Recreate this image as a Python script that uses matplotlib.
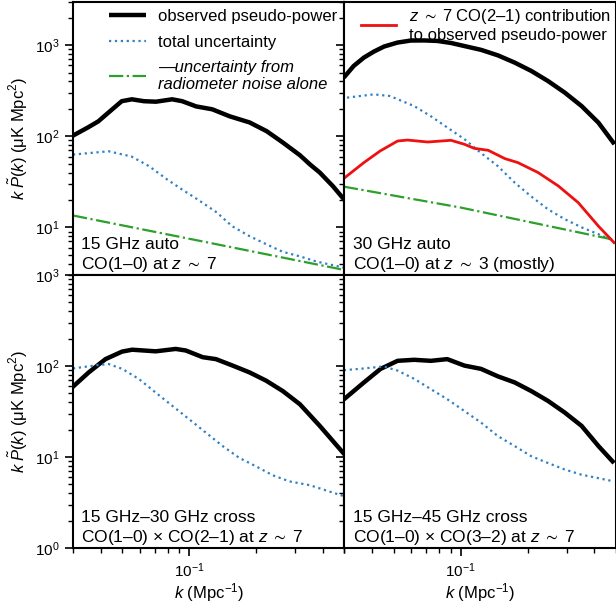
import matplotlib
matplotlib.use("Agg")
import matplotlib.pyplot as plt
import matplotlib.ticker as mticker
import numpy as np

plt.rcParams["font.family"] = ["Liberation Sans", "DejaVu Sans"]
plt.rcParams["mathtext.fontset"] = "custom"
plt.rcParams["mathtext.rm"] = "Liberation Sans"
plt.rcParams["mathtext.it"] = "Liberation Sans:italic"
plt.rcParams["mathtext.fallback"] = "stixsans"
plt.rcParams["axes.linewidth"] = 1.5

# 15 GHz auto
k_15_obs = [0.0296, 0.035, 0.039, 0.0434, 0.0497, 0.0552, 0.0626, 0.0709, 0.0838, 0.093, 0.1075,
            0.127, 0.152, 0.187, 0.223, 0.263, 0.315, 0.35, 0.387, 0.443, 0.50]
p_15_obs = [100, 125, 146, 183, 243, 255, 243, 240, 255, 243, 213,
            198, 166, 142, 114, 86, 62, 49, 40, 28.4, 20]
k_15_unc = [0.030, 0.0434, 0.055, 0.066, 0.079, 0.093, 0.11, 0.133, 0.156, 0.187,
            0.223, 0.263, 0.315, 0.376, 0.50]
p_15_unc = [63, 68.5, 60, 47, 34, 26, 20, 14.6, 10.3, 8.0,
            6.5, 5.4, 4.8, 4.2, 3.6]
k_15_rad = [0.030, 0.10, 0.50]
p_15_rad = [13.5, 7.5, 3.4]

# 30 GHz auto
k_30_obs = [0.0298, 0.033, 0.0367, 0.0407, 0.0452, 0.0519, 0.0596, 0.0685, 0.0787, 0.0904,
            0.104, 0.1236, 0.147, 0.175, 0.208, 0.247, 0.294, 0.35, 0.417, 0.492]
p_30_obs = [442, 593, 733, 853, 968, 1070, 1127, 1130, 1115, 1060,
            980, 890, 775, 645, 522, 405, 302, 215, 141, 82]
k_30_unc = [0.0308, 0.0407, 0.048, 0.0617, 0.0732, 0.087, 0.104, 0.123, 0.147, 0.175,
            0.207, 0.247, 0.294, 0.35, 0.417, 0.49]
p_30_unc = [266, 289, 277, 215, 167, 125, 93, 66, 47, 31,
            22, 15.8, 12.3, 10, 8.4, 7.1]
k_30_rad = [0.0298, 0.10, 0.49]
p_30_rad = [28, 16.5, 7.3]
k_30_co21 = [0.0298, 0.0367, 0.0434, 0.052, 0.0576, 0.071, 0.0904, 0.104, 0.115, 0.133,
             0.158, 0.181, 0.223, 0.275, 0.338, 0.417, 0.49]
p_30_co21 = [34.5, 51.5, 69, 88.8, 91, 86.6, 90.4, 81.7, 73.8, 70.2,
             56.9, 51.4, 40, 28.5, 18.7, 10.3, 6.8]

# 15x30 cross
k_x30_obs = [0.0297, 0.0353, 0.042, 0.0499, 0.0554, 0.0707, 0.087, 0.0966, 0.115, 0.132,
             0.157, 0.187, 0.222, 0.264, 0.315, 0.387, 0.50]
p_x30_obs = [58, 85, 119, 144, 151, 145, 154, 148, 125, 119,
             101, 85, 69, 53, 38, 22, 10.7]
k_x30_unc = [0.0300, 0.039, 0.0434, 0.050, 0.0594, 0.0707, 0.084, 0.10, 0.119, 0.1415,
             0.168, 0.20, 0.238, 0.283, 0.35, 0.50]
p_x30_unc = [94, 102.6, 105, 93, 72, 51, 36.5, 26, 18.5, 13.2,
             9.8, 7.9, 6.3, 5.4, 4.9, 3.7]

# 15x45 cross
k_x45_obs = [0.0298, 0.0367, 0.0436, 0.052, 0.0617, 0.0734, 0.087, 0.104, 0.1235, 0.147,
             0.175, 0.208, 0.247, 0.294, 0.35, 0.417, 0.49]
p_x45_obs = [43, 66, 93, 114, 117, 114, 119, 101, 93, 77,
             66, 53, 41.4, 30.8, 22, 13.2, 8.6]
k_x45_unc = [0.0298, 0.0367, 0.045, 0.052, 0.062, 0.0734, 0.087, 0.104, 0.1235, 0.147,
             0.175, 0.208, 0.247, 0.294, 0.35, 0.49]
p_x45_unc = [90, 94, 99, 89, 72, 55.7, 43.2, 32, 23.9, 17,
             13.2, 10.2, 8.6, 7.3, 6.4, 5.4]

c_blue = "#2f80c4"
c_green = "#2ca02c"
c_red = "#ee1111"

fig, axs = plt.subplots(2, 2, figsize=(6.16, 6.09), dpi=100)
fig.subplots_adjust(left=0.1185, right=1.0, bottom=0.1, top=0.997, wspace=0, hspace=0)

def obs(ax, k, p, **kw):
    ax.plot(k, p, color="k", lw=3.2, solid_capstyle="butt", solid_joinstyle="round", **kw)

def unc(ax, k, p, **kw):
    ax.plot(k, p, color=c_blue, lw=1.6, ls=":", **kw)

def rad(ax, k, p, **kw):
    ax.plot(k, p, color=c_green, lw=1.6, ls="-.", **kw)

zsim = "$z\\;\\sim\\;7$"

ax = axs[0, 0]
obs(ax, k_15_obs, p_15_obs, label="observed pseudo-power")
unc(ax, k_15_unc, p_15_unc, label="total uncertainty")
rad(ax, k_15_rad, p_15_rad, label="\u2014uncertainty from\nradiometer noise alone")
leg = ax.legend(loc="upper right", frameon=False, fontsize=12, handlelength=2.2,
                handletextpad=0.7, borderaxespad=0.05, labelspacing=0.62,
                bbox_to_anchor=(1.0, 1.0))
leg.get_texts()[2].set_fontstyle("italic")
ax.text(0.03, 0.003, "15 GHz auto\nCO(1\u20130) at " + zsim, transform=ax.transAxes,
        fontsize=12.5, va="bottom", ha="left", linespacing=1.2)

ax = axs[0, 1]
obs(ax, k_30_obs, p_30_obs)
unc(ax, k_30_unc, p_30_unc)
rad(ax, k_30_rad, p_30_rad)
ax.plot(k_30_co21, p_30_co21, color=c_red, lw=2.0,
        label=zsim + " CO(2\u20131) contribution\nto observed pseudo-power")
ax.legend(loc="upper right", frameon=False, fontsize=12, handlelength=2.1,
          handletextpad=0.8, borderaxespad=0.0, borderpad=0.3)
ax.text(0.03, 0.003, "30 GHz auto\nCO(1\u20130) at $z\\;\\sim\\;3$ (mostly)", transform=ax.transAxes,
        fontsize=12.5, va="bottom", ha="left", linespacing=1.2)

ax = axs[1, 0]
obs(ax, k_x30_obs, p_x30_obs)
unc(ax, k_x30_unc, p_x30_unc)
ax.text(0.03, 0.003, "15 GHz\u201330 GHz cross\nCO(1\u20130) $\\times$ CO(2\u20131) at " + zsim,
        transform=ax.transAxes, fontsize=12.5, va="bottom", ha="left", linespacing=1.2)

ax = axs[1, 1]
obs(ax, k_x45_obs, p_x45_obs)
unc(ax, k_x45_unc, p_x45_unc)
ax.text(0.03, 0.003, "15 GHz\u201345 GHz cross\nCO(1\u20130) $\\times$ CO(3\u20132) at " + zsim,
        transform=ax.transAxes, fontsize=12.5, va="bottom", ha="left", linespacing=1.2)

for i in range(2):
    for j in range(2):
        ax = axs[i, j]
        ax.set_xscale("log")
        ax.set_yscale("log")
        ax.set_xlim(0.03, 0.5)
        ax.set_ylim((3, 3000) if i == 0 else (1, 1000))
        ax.xaxis.set_major_locator(mticker.LogLocator(base=10, numticks=10))
        ax.xaxis.set_minor_locator(mticker.LogLocator(base=10, subs=np.arange(2, 10), numticks=10))
        ax.yaxis.set_minor_locator(mticker.LogLocator(base=10, subs=np.arange(2, 10), numticks=10))
        ax.yaxis.set_minor_formatter(mticker.NullFormatter())
        ax.xaxis.set_minor_formatter(mticker.NullFormatter())
        ax.tick_params(which="major", direction="out", length=6, width=1.2, labelsize=11)
        ax.tick_params(which="minor", direction="out", length=3.5, width=1.0)
        if j == 1:
            ax.tick_params(labelleft=False)
        else:
            ax.set_ylabel("$k\\;\\tilde{P}(k)$ (\u03bcK Mpc$^2$)", fontsize=12)
        if i == 0:
            ax.tick_params(labelbottom=False)
        else:
            ax.set_xlabel("$k$ (Mpc$^{-1}$)", fontsize=12, labelpad=1)

fig.savefig("out.png", dpi=100)
